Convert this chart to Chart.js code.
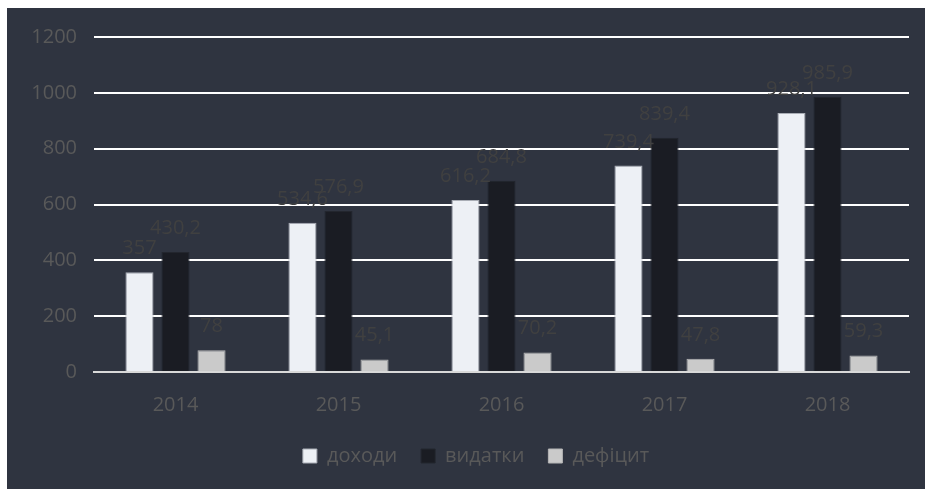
<!DOCTYPE html>
<html>
<head>
<meta charset="utf-8">
<script src="https://cdn.jsdelivr.net/npm/chart.js@4"></script>
<style>
  html, body { margin: 0; padding: 0; background: #fff; }
  #wrap { position: absolute; left: 7px; top: 8px; width: 918px; height: 481px; background: #2f3440; }
</style>
</head>
<body>
<div id="wrap"><canvas id="myChart"></canvas></div>
<script>
const roky = ['2014', '2015', '2016', '2017', '2018'];
const dohody = [357, 534.6, 616.2, 739.4, 928.1];
const vydatky = [430.2, 576.9, 684.8, 839.4, 985.9];
const deficyt = [78, 45.1, 70.2, 47.8, 59.3];

const shryft = '"Open Sans", "Noto Sans", sans-serif';
const siryi = '#595959';

// pidpysy nad stovpchykamy
const pidpysy = {
    id: 'pidpysy',
    afterLayout(chart) {
        // legenda trohy pravishe, yak v originali
        chart.legend.left += 18;
        chart.legend.right += 18;
    },
    afterDatasetsDraw(chart) {
        const ctx = chart.ctx;
        ctx.save();
        ctx.font = '20px ' + shryft;
        ctx.fillStyle = '#404040';
        ctx.textAlign = 'center';
        ctx.textBaseline = 'alphabetic';
        chart.data.datasets.forEach((ds, i) => {
            chart.getDatasetMeta(i).data.forEach((el, j) => {
                const t = String(ds.data[j]).replace('.', ',');
                ctx.fillText(t, el.x, el.y - 18);
            });
        });
        ctx.restore();
    }
};

Chart.defaults.font.family = shryft;
Chart.defaults.font.size = 20;
Chart.defaults.color = siryi;

const ctx1 = document.querySelector('#myChart').getContext('2d');
let myChart = new Chart(ctx1, {
    type: 'bar',
    data: {
        labels: roky,
        datasets: [{
            label: 'доходи',
            data: dohody,
            backgroundColor: '#edf0f5',
            borderColor: '#a9adb5',
            borderWidth: 1
        }, {
            label: 'видатки',
            data: vydatky,
            backgroundColor: '#1a1c23',
            borderColor: '#23262e',
            borderWidth: 1
        }, {
            label: 'дефіцит',
            data: deficyt,
            backgroundColor: '#cacaca',
            borderColor: '#b5b5b5',
            borderWidth: 1
        }]
    },
    options: {
        responsive: true,
        maintainAspectRatio: false,
        animation: false,
        categoryPercentage: 0.663,
        barPercentage: 0.78,
        layout: { padding: { top: 28, right: 16, left: 0, bottom: 13 } },
        plugins: {
            legend: {
                position: 'bottom',
                labels: {
                    boxWidth: 14,
                    boxHeight: 14,
                    padding: 24,
                    color: siryi,
                    font: { size: 20 }
                }
            },
            tooltip: { enabled: false }
        },
        scales: {
            x: {
                grid: { display: false, drawTicks: false },
                border: { display: true, color: '#d9d9d9', width: 2 },
                ticks: { padding: 21, color: siryi },
                afterFit(scale) { scale.height = scale.height - 16; }
            },
            y: {
                min: 0,
                max: 1200,
                ticks: { stepSize: 200, padding: 17, color: siryi, callback: v => String(v) },
                grid: { color: '#ffffff', lineWidth: 2, drawTicks: false },
                border: { display: false },
                afterFit(scale) { scale.width = 87; }
            }
        }
    },
    plugins: [pidpysy]
});
</script>
</body>
</html>
